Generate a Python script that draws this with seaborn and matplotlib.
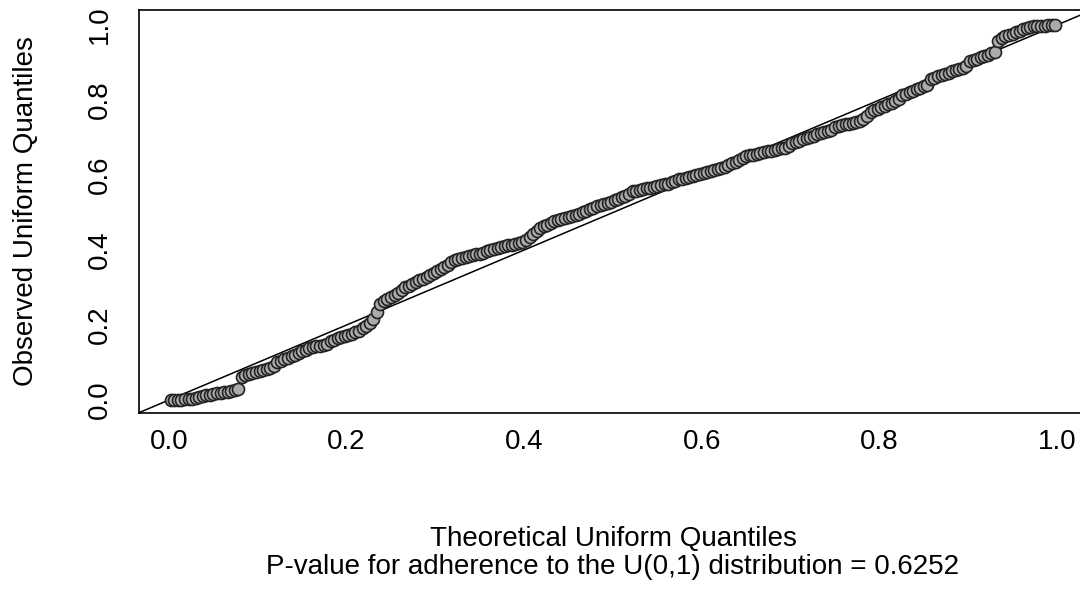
import numpy as np
import pandas as pd
import matplotlib
matplotlib.use("Agg")
import matplotlib.pyplot as plt
import seaborn as sns

# Observed (sorted) p-values, 250 points
observed = [
    0.000, 0.000, 0.001, 0.001, 0.002, 0.002, 0.003, 0.004, 0.009, 0.011,
    0.012, 0.014, 0.016, 0.018, 0.019, 0.020, 0.022, 0.024, 0.027, 0.030,
    0.062, 0.066, 0.069, 0.072, 0.074, 0.077, 0.080, 0.083, 0.086, 0.090,
    0.100, 0.104, 0.108, 0.112, 0.116, 0.121, 0.126, 0.130, 0.134, 0.139,
    0.141, 0.143, 0.145, 0.146, 0.150, 0.156, 0.161, 0.165, 0.168, 0.171,
    0.174, 0.177, 0.180, 0.184, 0.191, 0.197, 0.205, 0.216, 0.235, 0.256,
    0.263, 0.268, 0.274, 0.280, 0.286, 0.292, 0.300, 0.305, 0.310, 0.314,
    0.319, 0.323, 0.328, 0.333, 0.339, 0.345, 0.350, 0.355, 0.360, 0.367,
    0.372, 0.375, 0.378, 0.380, 0.383, 0.386, 0.388, 0.390, 0.393, 0.396,
    0.401, 0.403, 0.406, 0.408, 0.410, 0.412, 0.414, 0.416, 0.418, 0.421,
    0.426, 0.434, 0.442, 0.450, 0.458, 0.463, 0.467, 0.471, 0.476, 0.479,
    0.482, 0.485, 0.488, 0.491, 0.494, 0.497, 0.500, 0.504, 0.510, 0.513,
    0.516, 0.519, 0.523, 0.526, 0.529, 0.533, 0.536, 0.540, 0.544, 0.548,
    0.556, 0.558, 0.560, 0.562, 0.564, 0.566, 0.568, 0.571, 0.573, 0.575,
    0.577, 0.580, 0.585, 0.588, 0.590, 0.593, 0.595, 0.598, 0.600, 0.603,
    0.605, 0.608, 0.610, 0.613, 0.615, 0.618, 0.622, 0.627, 0.631, 0.635,
    0.639, 0.644, 0.650, 0.652, 0.654, 0.656, 0.658, 0.661, 0.663, 0.665,
    0.667, 0.669, 0.671, 0.673, 0.676, 0.685, 0.688, 0.691, 0.695, 0.698,
    0.701, 0.705, 0.708, 0.711, 0.715, 0.718, 0.721, 0.729, 0.731, 0.733,
    0.735, 0.737, 0.739, 0.741, 0.743, 0.748, 0.756, 0.767, 0.772, 0.776,
    0.780, 0.784, 0.789, 0.793, 0.797, 0.802, 0.812, 0.816, 0.820, 0.824,
    0.828, 0.832, 0.836, 0.840, 0.856, 0.859, 0.863, 0.866, 0.869, 0.873,
    0.876, 0.879, 0.883, 0.886, 0.890, 0.903, 0.907, 0.910, 0.914, 0.917,
    0.921, 0.924, 0.928, 0.957, 0.966, 0.970, 0.973, 0.977, 0.981, 0.985,
    0.989, 0.993, 0.995, 0.996, 0.997, 0.998, 0.998, 0.999, 0.999, 1.000,
]
tick_values = [0.0, 0.2, 0.4, 0.6, 0.8, 1.0]
tick_labels = ["0.0", "0.2", "0.4", "0.6", "0.8", "1.0"]
x_title = "Theoretical Uniform Quantiles"
y_title = "Observed Uniform Quantiles"
p_value = 0.6252

# Theoretical uniform quantiles (plotting positions) for a QQ plot
n = len(observed)
theoretical = (np.arange(1, n + 1) - 0.5) / n
df = pd.DataFrame({"theoretical": theoretical, "observed": observed})

sns.set_theme(style="white")
plt.rcParams["font.family"] = ["Liberation Sans", "DejaVu Sans"]

fig = plt.figure(figsize=(10.8, 5.89), dpi=100)
ax = fig.add_axes([139 / 1080, 1 - 413 / 589, (1087 - 139) / 1080, (413 - 10) / 589])

sns.scatterplot(data=df, x="theoretical", y="observed", ax=ax,
                s=75, color="#ababab", edgecolor="#222222", linewidth=1.2,
                zorder=3, legend=False)
ax.axline((0, 0), slope=1, color="black", linewidth=1.1, zorder=2)

ax.set_xlim(-0.0338, 1.0338)
ax.set_ylim(-0.0347, 1.040)
ax.set_xticks(tick_values)
ax.set_xticklabels(tick_labels)
ax.set_yticks(tick_values)
ax.set_yticklabels(tick_labels, rotation=90, va="center")

for s in ax.spines.values():
    s.set_visible(True)
    s.set_color("black")
    s.set_linewidth(1.2)

ax.tick_params(axis="both", direction="out", length=8.6, width=1.1,
               color="black", labelsize=20, labelcolor="black")
ax.tick_params(axis="x", pad=3)
ax.tick_params(axis="y", pad=10)

ax.set_xlabel(f"{x_title}\nP-value for adherence to the U(0,1) distribution = {p_value}",
              fontsize=20, color="black", labelpad=51, linespacing=1.12)
ax.set_ylabel(y_title, fontsize=20, color="black", labelpad=35)

fig.savefig("out.png", dpi=100)
